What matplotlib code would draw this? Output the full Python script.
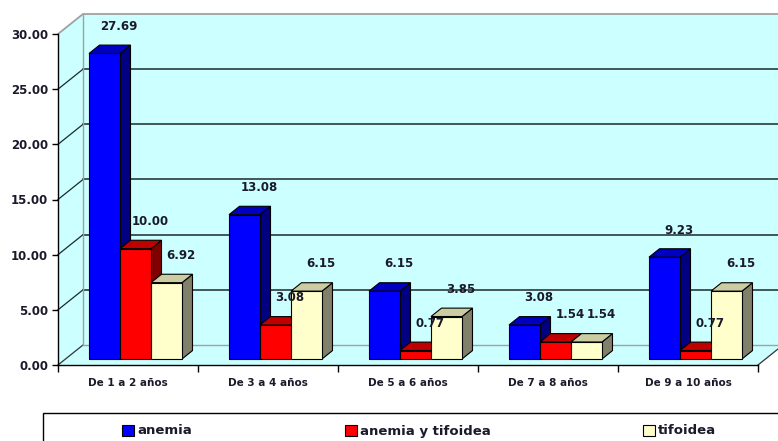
import matplotlib.pyplot as plt
from matplotlib.patches import Polygon, Rectangle
from matplotlib.ticker import FormatStrFormatter

plt.rcParams['font.family'] = 'DejaVu Sans'
plt.rcParams['font.weight'] = 'bold'

# --- Data ---
categories = ["De 1 a 2 años", "De 3 a 4 años", "De 5 a 6 años",
              "De 7 a 8 años", "De 9 a 10 años"]
series_names = ["anemia", "anemia y tifoidea", "tifoidea"]
anemia = [27.69, 13.08, 6.15, 3.08, 9.23]
anemia_tifoidea = [10.00, 3.08, 0.77, 1.54, 0.77]
tifoidea = [6.92, 6.15, 3.85, 1.54, 6.15]
series = [anemia, anemia_tifoidea, tifoidea]

# front / top / side colours for each series
colors = [("#0000FF", "#0000C0", "#000080"),
          ("#FF0000", "#C00000", "#800000"),
          ("#FFFFCC", "#CCCCA3", "#80806B")]
wall = "#CCFFFF"
text_col = "#1a1a2a"

# --- Figure and 3D-ish geometry ---
fig = plt.figure(figsize=(7.78, 4.41), dpi=100)
ax = fig.add_axes([58 / 778, 76 / 441, 700 / 778, 331 / 441])
ax.set_xlim(-0.5, 4.5)
ax.set_ylim(0, 30)
ax.patch.set_visible(False)

DX = 25 / 140             # depth offset in category units
DY = 20 / (331 / 30)      # depth offset in value units
x0, x1, ytop = -0.5, 4.5, 30

# walls and floor
for pts in [
    [(x0 + DX, DY), (x1 + DX, DY), (x1 + DX, ytop + DY), (x0 + DX, ytop + DY)],
    [(x0, 0), (x0, ytop), (x0 + DX, ytop + DY), (x0 + DX, DY)],
    [(x0, 0), (x1, 0), (x1 + DX, DY), (x0 + DX, DY)],
]:
    ax.add_patch(Polygon(pts, closed=True, facecolor=wall, edgecolor="none",
                         clip_on=False, zorder=0))

# gridlines on the back and side walls
for v in range(5, 30, 5):
    ax.plot([x0 + DX, x1 + DX], [v + DY, v + DY], color="#1c2a2a", lw=1.1,
            clip_on=False, zorder=1)
    ax.plot([x0, x0 + DX], [v, v + DY], color="#1c2a2a", lw=0.9,
            clip_on=False, zorder=1)
ax.plot([x0, x0 + DX], [0, DY], color="#333333", lw=0.9, clip_on=False, zorder=1)

# wall edges
edge = "#A0A0A0"
ax.plot([x0, x0 + DX, x1 + DX], [ytop, ytop + DY, ytop + DY], color=edge,
        lw=1.3, clip_on=False, zorder=1)
ax.plot([x0 + DX, x0 + DX], [DY, ytop + DY], color=edge, lw=1.0,
        clip_on=False, zorder=1)
ax.plot([x0 + DX, x1 + DX], [DY, DY], color=edge, lw=1.0, clip_on=False, zorder=1)
ax.plot([x1, x1 + DX], [0, DY], color="#333333", lw=0.9, clip_on=False, zorder=1)

# --- Bars ---
w = 0.2214
d0, dd = 0.3, 0.42
n = 0
for i in range(len(categories)):
    for k, vals in enumerate(series):
        v = vals[i]
        face, top, side = colors[k]
        bx = i - 1.5 * w + k * w + d0 * DX
        by = d0 * DY
        ox, oy = dd * DX, dd * DY
        z = 3 + n * 0.01
        n += 1
        ax.add_patch(Polygon([(bx + w, by), (bx + w + ox, by + oy),
                              (bx + w + ox, by + v + oy), (bx + w, by + v)],
                             facecolor=side, edgecolor="black", lw=0.8,
                             clip_on=False, zorder=z))
        ax.add_patch(Polygon([(bx, by + v), (bx + w, by + v),
                              (bx + w + ox, by + v + oy), (bx + ox, by + v + oy)],
                             facecolor=top, edgecolor="black", lw=0.8,
                             clip_on=False, zorder=z))
        ax.add_patch(Rectangle((bx, by), w, v, facecolor=face, edgecolor="black",
                               lw=0.8, clip_on=False, zorder=z))
        ax.annotate(f"{v:.2f}", xy=(bx + w / 2 + ox, by + v + oy),
                    xytext=(3, 13.5), textcoords="offset points",
                    ha="center", va="center", fontsize=8.5, color=text_col,
                    zorder=10, annotation_clip=False)

# --- Axes ---
for s in ["top", "right"]:
    ax.spines[s].set_visible(False)
for s in ["left", "bottom"]:
    ax.spines[s].set_color("black")
    ax.spines[s].set_linewidth(1.0)
    ax.spines[s].set_zorder(2)

ax.set_yticks(range(0, 31, 5))
ax.yaxis.set_major_formatter(FormatStrFormatter("%.2f"))
ax.tick_params(axis="y", direction="out", length=4, width=1, pad=3,
               labelsize=8.5, labelcolor=text_col)

ax.set_xticks(range(len(categories)))
ax.set_xticklabels(categories)
ax.set_xticks([i - 0.5 for i in range(len(categories) + 1)], minor=True)
ax.tick_params(axis="x", which="major", length=0, pad=9, labelsize=7.5,
               labelcolor=text_col)
ax.tick_params(axis="x", which="minor", direction="out", length=5, width=1)

# --- Legend ---
fig.patches.append(Rectangle((43 / 778, -0.1), 1.2, (441 - 413) / 441 + 0.1,
                             transform=fig.transFigure, fill=False,
                             edgecolor="black", lw=1.0))
leg_x = [122, 345, 643]
for k, name in enumerate(series_names):
    fig.patches.append(Rectangle((leg_x[k] / 778, 5 / 441), 12 / 778, 11 / 441,
                                 transform=fig.transFigure,
                                 facecolor=colors[k][0], edgecolor="black", lw=0.8))
    fig.text((leg_x[k] + 15) / 778, 10 / 441, name, fontsize=9.5,
             color=text_col, va="center", ha="left")

fig.savefig("out.png", dpi=100)
